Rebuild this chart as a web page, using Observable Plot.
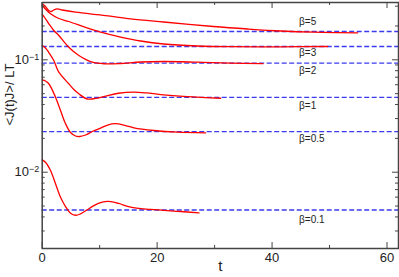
<!DOCTYPE html>
<html><head><meta charset="utf-8">
<script src="https://cdn.jsdelivr.net/npm/d3@7"></script>
<script src="https://cdn.jsdelivr.net/npm/@observablehq/plot@0.6"></script>
<style>body{margin:0;background:#fff} svg{display:block}</style>
</head><body><div id="chart"></div>
<script>
// series names, plateau (dashed) values, label positions
const betas = ["β=5","β=3","β=2","β=1","β=0.5","β=0.1"];
const plateau = [0.1785, 0.1313, 0.0933, 0.0464, 0.0230, 0.00461];
const labelV = [0.2160, 0.1145, 0.0792, 0.0390, 0.0198, 0.00377];
const labelT = 44.7;

// curves
const t_b5 = [0, 0.57, 1.15, 1.53, 2.02, 2.61, 3.48, 5.8, 11.03, 15.38, 21.13, 29.8, 35.8, 41.5, 47.3, 54.9];
const v_b5 = [0.3169, 0.2979, 0.2746, 0.2690, 0.2774, 0.2843, 0.2774, 0.2652, 0.2477, 0.2316, 0.2170, 0.1978, 0.1879, 0.1804, 0.1760, 0.1738];
const t_b3 = [0, 1.45, 2.89, 4.63, 7.54, 10.16, 13.64, 17.13, 21.13, 27.0, 32.8, 41.5, 49.65];
const v_b3 = [0.3041, 0.2566, 0.2331, 0.2192, 0.1939, 0.1760, 0.1595, 0.1470, 0.1382, 0.1327, 0.1308, 0.1305, 0.1313];
const t_b2 = [0, 0.31, 1.15, 2.02, 2.89, 4.63, 6.38, 8.71, 11.03, 13.64, 17.13, 21.13, 27.0, 32.8, 38.4];
const v_b2 = [0.2529, 0.2427, 0.2091, 0.1823, 0.1645, 0.1295, 0.1092, 0.0952, 0.0921, 0.0927, 0.0956, 0.0966, 0.0952, 0.0933, 0.0923];
const t_b1 = [0, 0.57, 1.15, 2.02, 2.89, 4.63, 5.51, 6.38, 7.84, 9.29, 11.03, 13.29, 15.96, 18.17, 20.61, 25.26, 31.06];
const v_b1 = [0.1340, 0.1274, 0.1161, 0.0986, 0.0776, 0.0612, 0.0544, 0.0498, 0.0448, 0.0453, 0.0476, 0.0504, 0.0515, 0.0507, 0.0491, 0.0471, 0.0455];
const t_b05 = [0, 0.57, 1.15, 2.32, 3.19, 4.06, 4.93, 5.80, 6.5, 7.54, 8.71, 10.16, 11.38, 12.77, 14.34, 15.96, 19.44, 23.52, 28.45];
const v_b05 = [0.0664, 0.0648, 0.0612, 0.0465, 0.0354, 0.0270, 0.02255, 0.0210, 0.02078, 0.02143, 0.02302, 0.02472, 0.0263, 0.0270, 0.02614, 0.02483, 0.02350, 0.02270, 0.02242];
const t_b01 = [0, 0.57, 1.45, 2.32, 3.19, 4.06, 4.93, 5.80, 6.67, 7.84, 8.99, 10.45, 11.55, 13.3, 15.38, 18.87, 24.1, 27.28];
const v_b01 = [0.01289, 0.01227, 0.01035, 0.00788, 0.00599, 0.00495, 0.00432, 0.00414, 0.00426, 0.00463, 0.00505, 0.00541, 0.00549, 0.00527, 0.00488, 0.00466, 0.00447, 0.00435];

// ticks
const xMajor = [0, 20, 40, 60];
const xMinor = [10, 30, 50];
const yMajor = [0.01, 0.1];
const yMinor = [0.003,0.004,0.005,0.006,0.007,0.008,0.009,0.02,0.03,0.04,0.05,0.06,0.07,0.08,0.09,0.2,0.3];

const series = [[t_b5,v_b5],[t_b3,v_b3],[t_b2,v_b2],[t_b1,v_b1],[t_b05,v_b05],[t_b01,v_b01]];
const rows = series.flatMap(([ts, vs], i) => ts.map((t, j) => ({beta: betas[i], t, v: vs[j]})));
const plateauRows = betas.map((b, i) => ({beta: b, v: plateau[i]}));
const labelRows = betas.map((b, i) => ({beta: b, t: labelT, v: labelV[i]}));

const W = 399, H = 277, mL = 41.7, mR = 1, mT = 2, mB = 29;
const fw = W - mL - mR, fh = H - mT - mB;
const axisColor = "#444";

const chart = Plot.plot({
  width: W, height: H,
  marginLeft: mL, marginRight: mR, marginTop: mT, marginBottom: mB,
  style: {fontFamily: "'Liberation Sans', Arial, sans-serif", fontSize: "12px", background: "#fff", color: "#222"},
  x: {domain: [0, 62]},
  y: {type: "log", domain: [0.002095, 0.3235]},
  marks: [
    Plot.ruleY(plateauRows, {y: "v", stroke: "#3a3af0", strokeWidth: 1.3, strokeDasharray: "5,2.5"}),
    Plot.line(rows, {x: "t", y: "v", z: "beta", stroke: "#ff0000", strokeWidth: 1.3, curve: "catmull-rom"}),
    Plot.text(labelRows, {x: "t", y: "v", text: "beta", textAnchor: "start", fontSize: 10, fill: "#222"}),
    // ticks inward on all sides
    Plot.ruleY(yMajor, {stroke: axisColor, insetRight: fw - 6}),
    Plot.ruleY(yMinor, {stroke: axisColor, insetRight: fw - 3}),
    Plot.ruleY(yMajor, {stroke: axisColor, insetLeft: fw - 6}),
    Plot.ruleY(yMinor, {stroke: axisColor, insetLeft: fw - 3}),
    Plot.ruleX(xMajor, {stroke: axisColor, insetTop: fh - 6}),
    Plot.ruleX(xMinor, {stroke: axisColor, insetTop: fh - 3}),
    Plot.ruleX(xMajor, {stroke: axisColor, insetBottom: fh - 6}),
    Plot.ruleX(xMinor, {stroke: axisColor, insetBottom: fh - 3}),
    Plot.frame({stroke: axisColor, strokeWidth: 1.5}),
    Plot.axisX({ticks: xMajor, tickSize: 0, tickPadding: 4, label: null, fontSize: 13}),
    Plot.axisY({ticks: yMajor, tickSize: 0, tickPadding: 3, label: null, fontSize: 13,
      tickFormat: d => d === 0.1 ? "10^-1" : "10^-2"}),
    Plot.text(["t"], {frameAnchor: "bottom", dy: 22, fontSize: 15, fill: "#222"}),
    Plot.text(["<J(t)J>/ LT"], {frameAnchor: "left", dx: -32, rotate: -90, fontSize: 13, fill: "#222"})
  ]
});
// render superscript exponents
chart.querySelectorAll("text").forEach(el => {
  const s = el.textContent;
  const m = s.match(/^10\^(-\d)$/);
  if (m) {
    el.textContent = "10";
    const ts = document.createElementNS("http://www.w3.org/2000/svg", "tspan");
    ts.setAttribute("dy", "-0.45em");
    ts.setAttribute("font-size", "9");
    ts.textContent = m[1].replace("-", "−");
    el.appendChild(ts);
  }
});
document.getElementById("chart").appendChild(chart);
</script>
</body></html>
